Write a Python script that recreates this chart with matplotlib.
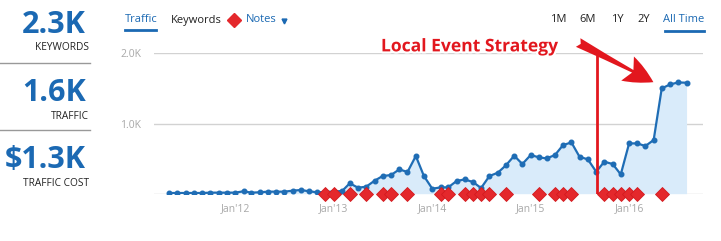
import matplotlib
matplotlib.use("Agg")

import matplotlib.dates as mdates
import matplotlib.patheffects as pe
import matplotlib.pyplot as plt
import pandas as pd

# monthly organic traffic, May 2011 .. Aug 2016
traffic = [
    10, 10, 10, 10, 10, 15, 15, 15,
    15, 34, 15, 20, 29, 29, 29, 43, 53, 34, 20, 25,
    30, 40, 148, 85, 100, 185, 252, 266, 347, 309, 537, 252,
    71, 90, 90, 180, 204, 166, 81, 252, 299, 404, 541, 423,
    551, 518, 503, 551, 693, 731, 527, 489, 313, 456, 423, 275,
    717, 717, 679, 765, 1501, 1558, 1586, 1582,
]
first_month = "2011-05-01"

notes = [
    "2012-12", "2013-01", "2013-03", "2013-05", "2013-07", "2013-08", "2013-10",
    "2014-02", "2014-03", "2014-05", "2014-06", "2014-07", "2014-08", "2014-10",
    "2015-02", "2015-04", "2015-05", "2015-06", "2015-10", "2015-11", "2015-12",
    "2016-01", "2016-02", "2016-05",
]
strategy_date = "2015-09-04"

summary_values = ["2.3K", "1.6K", "$1.3K"]
summary_labels = ["KEYWORDS", "TRAFFIC", "TRAFFIC COST"]
ranges = ["1M", "6M", "1Y", "2Y", "All Time"]

BLUE = "#1b69b3"
LINE = "#1f6db5"
FILL = "#d9ebfa"
RED = "#e2171e"
GRAY = "#a8a8a8"
W, H = 721, 241


def fx(px):
    return px / W


def fy(py):
    return 1 - py / H


def main() -> None:
    plt.rcParams["font.family"] = ["Open Sans", "DejaVu Sans"]
    months = pd.date_range(first_month, periods=len(traffic), freq="MS")
    note_dates = pd.to_datetime(notes)

    fig = plt.figure(figsize=(W / 100, H / 100), dpi=100)
    ax = fig.add_axes([fx(154), 1 - 193.7 / H, fx(549), 140.3 / H])

    ax.fill_between(months, traffic, color=FILL, lw=0, zorder=1)
    ax.plot(months, traffic, color=LINE, lw=1.6, marker="o", ms=3.3, zorder=3)
    ax.plot(note_dates, [0] * len(note_dates), ls="none", marker="D", ms=7,
            color="#e4282c", mec="#d21a1f", mew=0.6, clip_on=False, zorder=5)

    ax.set_ylim(0, 2000)
    ax.set_xlim(pd.Timestamp("2011-03-06"), pd.Timestamp("2016-10-01"))
    ax.set_yticks([0, 1000, 2000], ["", "1.0K", "2.0K"])
    ax.yaxis.grid(True, color="#d2d2d2", lw=1)
    ax.set_axisbelow(True)
    ax.xaxis.set_major_locator(mdates.YearLocator(month=1, day=1))
    ax.xaxis.set_major_formatter(mdates.DateFormatter("%b'%y"))
    ax.tick_params(length=0, colors=GRAY, labelsize=7.5)
    ax.tick_params(axis="y", pad=9)
    ax.tick_params(axis="x", pad=7)
    for s in ax.spines.values():
        s.set_visible(False)

    # strategy marker
    sdate = pd.Timestamp(strategy_date)
    ax.vlines(sdate, 0, 1975, color=RED, lw=2, zorder=4)
    ax.annotate("", xy=(pd.Timestamp("2016-03-31"), 1590),
                xytext=(pd.Timestamp("2015-06-26"), 2155),
                arrowprops=dict(arrowstyle="fancy,head_length=1.5,head_width=1.4,tail_width=0.5",
                                color=RED, lw=0, shrinkA=0, shrinkB=0, mutation_scale=14),
                annotation_clip=False, zorder=6)
    ax.text(pd.Timestamp("2014-05-20"), 2100, "Local Event Strategy", color=RED,
            fontsize=12.6, fontweight="bold", ha="center", va="center",
            path_effects=[pe.withStroke(linewidth=3, foreground="white")],
            clip_on=False, zorder=6)

    # left summary panel
    big_y = [25, 93, 160]
    small_y = [48, 116, 183]
    for val, lab, by, sy in zip(summary_values, summary_labels, big_y, small_y):
        fig.text(fx(86), fy(by), val, color=BLUE, fontsize=22, fontweight="bold",
                 ha="right", va="center")
        fig.text(fx(89), fy(sy), lab, color="#222222", fontsize=7.3,
                 ha="right", va="center")
    for sep in [63, 130]:
        fig.add_artist(plt.Line2D([0, fx(90)], [fy(sep), fy(sep)], color="#999999", lw=1))

    # header tabs
    fig.text(fx(125), fy(20), "Traffic", color=BLUE, fontsize=8, va="center")
    fig.add_artist(plt.Line2D([fx(125), fx(156)], [fy(30), fy(30)], color=BLUE, lw=2))
    fig.text(fx(171), fy(20), "Keywords", color="#222222", fontsize=8, va="center")
    fig.add_artist(plt.Line2D([fx(234)], [fy(20)], marker="D", ms=7, color="#e4282c"))
    fig.text(fx(246), fy(20), "Notes", color=BLUE, fontsize=8, va="center")
    fig.add_artist(plt.Line2D([fx(284)], [fy(20.5)], marker="v", ms=3.5, color=BLUE))

    range_x = [558, 588, 617, 644, 684]
    for lab, x in zip(ranges, range_x):
        fig.text(fx(x), fy(20), lab, color=BLUE if lab == "All Time" else "#222222",
                 fontsize=8, ha="center", va="center")
    fig.add_artist(plt.Line2D([fx(665), fx(704)], [fy(30.5), fy(30.5)], color=BLUE, lw=2))

    fig.savefig("out.png", dpi=100)


if __name__ == "__main__":
    main()
